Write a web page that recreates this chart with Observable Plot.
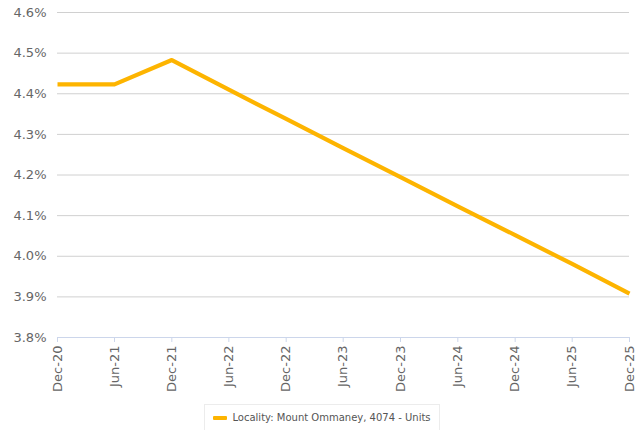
<!DOCTYPE html>
<html>
<head>
<meta charset="utf-8">
<script src="https://cdn.jsdelivr.net/npm/d3@7"></script>
<script src="https://cdn.jsdelivr.net/npm/@observablehq/plot@0.6"></script>
<style>
  body { margin: 0; background: #fff; font-family: "DejaVu Sans", sans-serif; }
  #chart { width: 644px; }
  .legend { display: flex; justify-content: center; margin-top: 6px; padding-left: 0px; }
  .legend-box { border: 1px solid #ececec; border-bottom: none; padding: 7px 8px 7px 8px; font-size: 10px; color: #555; display: flex; align-items: center; }
  .legend-swatch { width: 14px; height: 4px; background: #FDB400; margin-right: 5px; border-radius: 1px; }
</style>
</head>
<body>
<div id="chart"></div>
<script>
const periods = ["2020-12","2021-06","2021-12","2022-06","2022-12","2023-06","2023-12","2024-06","2024-12","2025-06","2025-12"];
const values = [4.423, 4.423, 4.483, 4.410, 4.338, 4.266, 4.195, 4.123, 4.052, 3.981, 3.908];
const yTicks = [3.8, 3.9, 4.0, 4.1, 4.2, 4.3, 4.4, 4.5, 4.6];
const seriesName = "Locality: Mount Ommaney, 4074 - Units";

const parse = d3.utcParse("%Y-%m");
const data = periods.map((p, i) => ({date: parse(p), value: values[i]}));
const dates = data.map(d => d.date);

const chart = Plot.plot({
  width: 644,
  height: 398,
  marginTop: 12,
  marginLeft: 57,
  marginRight: 15,
  marginBottom: 61,
  style: {fontFamily: "DejaVu Sans, sans-serif", fontSize: "13px", color: "#666", background: "#fff"},
  x: {type: "utc", domain: [dates[0], dates[dates.length - 1]]},
  y: {domain: [3.8, 4.6]},
  marks: [
    Plot.ruleY(yTicks.filter(t => t > 3.8), {stroke: "#d0d0d0", strokeWidth: 1}),
    Plot.ruleY([3.8], {stroke: "#ccd6eb", strokeWidth: 1}),
    Plot.axisY({ticks: yTicks, tickSize: 0, tickPadding: 11, tickFormat: d => d.toFixed(1) + "%", fill: "#666", label: null}),
    Plot.axisX({ticks: dates, tickSize: 5, tickPadding: 3, tickRotate: -90, stroke: "#ccd6eb", fill: "#666", tickFormat: d3.utcFormat("%b-%y"), label: null}),
    Plot.line(data, {x: "date", y: "value", stroke: "#FDB400", strokeWidth: 4.2, strokeLinejoin: "round", strokeLinecap: "butt"})
  ]
});
document.getElementById("chart").appendChild(chart);

const legend = document.createElement("div");
legend.className = "legend";
legend.innerHTML = `<div class="legend-box"><span class="legend-swatch"></span><span>${seriesName}</span></div>`;
document.getElementById("chart").appendChild(legend);
</script>
</body>
</html>
